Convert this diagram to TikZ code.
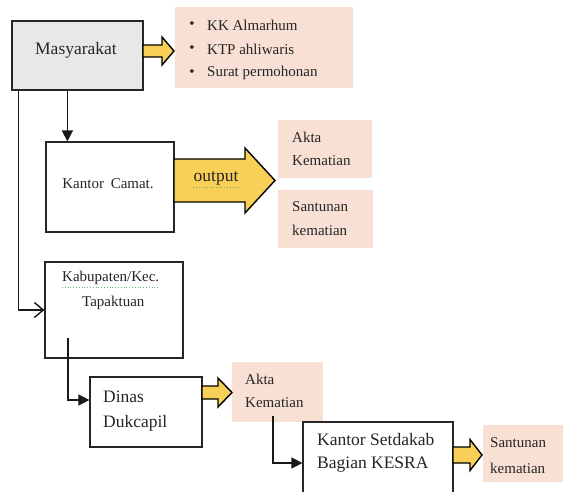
\documentclass[tikz,border=0pt]{standalone}
\usepackage{fontspec}
\setmainfont{Liberation Serif}
\usetikzlibrary{arrows.meta}
\definecolor{peach}{RGB}{249,224,212}
\definecolor{boxgray}{RGB}{232,232,232}
\definecolor{ayellow}{RGB}{248,208,88}
\definecolor{squig}{RGB}{110,180,110}
\newcommand\blockarr[6]{\draw[yarr] (#1,#4-#5) -- (#2,#4-#5) -- (#2,#4-#6) -- (#3,#4) -- (#2,#4+#6) -- (#2,#4+#5) -- (#1,#4+#5) -- cycle;}
\begin{document}
\begin{tikzpicture}[x=1pt,y=-1pt,
 box/.style={draw=black!85, line width=1.2pt, fill=white, inner sep=0pt},
 pbox/.style={fill=peach, inner sep=0pt},
 yarr/.style={draw=black, line width=1.4pt, fill=ayellow, line join=miter},
 txt/.style={inner sep=0pt, anchor=west, text=black!85, font=\fontsize{15}{18}\selectfont},
 btxt/.style={inner sep=0pt, anchor=west, text=black!85, font=\fontsize{17.5}{20}\selectfont},
 conn/.style={line width=1.4pt, draw=black!90},
 fa/.style={-{Triangle[length=11pt,width=11pt]}},
 oa/.style={-{Straight Barb[length=9pt,width=15pt,line width=1.4pt]}},
 sq/.style={draw=squig, line width=0.8pt, dotted}]
\useasboundingbox (0,0) rectangle (563,492);
\clip (0,0) rectangle (563,492);
\fill[white] (0,0) rectangle (563,492);

% boxes
\node[box, fill=boxgray, minimum width=131pt, minimum height=69pt] (mas) at (77.5,55.5) {};
\node[pbox, minimum width=178pt, minimum height=81pt] (docs) at (264,47.5) {};
\node[box, minimum width=128pt, minimum height=90pt] (cam) at (110,187) {};
\node[pbox, minimum width=94pt, minimum height=58pt] (akta1) at (325,149) {};
\node[pbox, minimum width=95pt, minimum height=58pt] (sant1) at (325.5,219) {};
\node[box, minimum width=138pt, minimum height=96pt] (kab) at (114,310) {};
\node[box, minimum width=112pt, minimum height=70pt] (dinas) at (146,412) {};
\node[pbox, minimum width=91pt, minimum height=60pt] (akta2) at (277.5,392) {};
\node[box, minimum width=150pt, minimum height=82pt] (kesra) at (378,463) {};
\node[pbox, minimum width=82pt, minimum height=57pt] (sant3) at (524,453.5) {};

% texts
\node[btxt, anchor=center] (mast) at (76,50) {Masyarakat};
\node[txt, anchor=center] (b1d) at (192,25) {•};
\node[txt, anchor=center] (b2d) at (192,49) {•};
\node[txt, anchor=center] (b3d) at (192,73) {•};
\node[txt] (b1) at (207,25) {KK Almarhum};
\node[txt] (b2) at (207,49) {KTP ahliwaris};
\node[txt] (b3) at (207,73) {Surat permohonan};
\node[txt, anchor=center] (camt) at (108,184) {Kantor\hspace{3pt} Camat.};
\node[txt] (ak1a) at (292,137) {Akta};
\node[txt] (ak1b) at (292,161) {Kematian};
\node[txt] (sa1a) at (292,207) {Santunan};
\node[txt] (sa1b) at (292,230) {kematian};
\node[txt] (kabt1) at (62,278) {Kabupaten/Kec.};
\node[txt] (kabt2) at (82,303) {Tapaktuan};
\node[btxt] (dit1) at (103,397) {Dinas};
\node[btxt] (dit2) at (103,423) {Dukcapil};
\node[txt] (ak2a) at (245,379) {Akta};
\node[txt] (ak2b) at (245,403) {Kematian};
\node[btxt] (kst1) at (317,440) {Kantor Setdakab};
\node[btxt] (kst2) at (317,465) {Bagian KESRA};
\node[txt] (sa3a) at (490,443) {Santunan};
\node[txt] (sa3b) at (490,468) {kematian};

% block arrows
\blockarr{143}{162}{174}{51}{6}{14}
\blockarr{174}{245}{275}{180.5}{21.5}{32.5}
\blockarr{202}{218}{232}{392.5}{6.5}{14.5}
\blockarr{453}{470}{482}{455}{8}{15.5}
\node[btxt, anchor=center] (outt) at (216,178) {output};

% spell-check squiggles
\draw[sq] ([yshift=-2pt]outt.south west) -- ([yshift=-2pt]outt.south east);
\draw[sq] ([yshift=-2pt]kabt1.south west) -- ([yshift=-2pt]kabt1.south east);

% connectors
\coordinate (m1) at ([xshift=7pt]mas.south west);
\coordinate (m2) at ([xshift=56pt]mas.south west);
\draw[conn,oa] (m1) |- (kab.west);
\draw[conn,fa] (m2) -- (m2 |- cam.north);
\coordinate (k1) at (68,338);
\draw[conn,fa] (k1) |- ([yshift=12pt]dinas.west);
\coordinate (a1) at (273,416);
\draw[conn,fa] (a1) |- (kesra.west);
\end{tikzpicture}
\end{document}
